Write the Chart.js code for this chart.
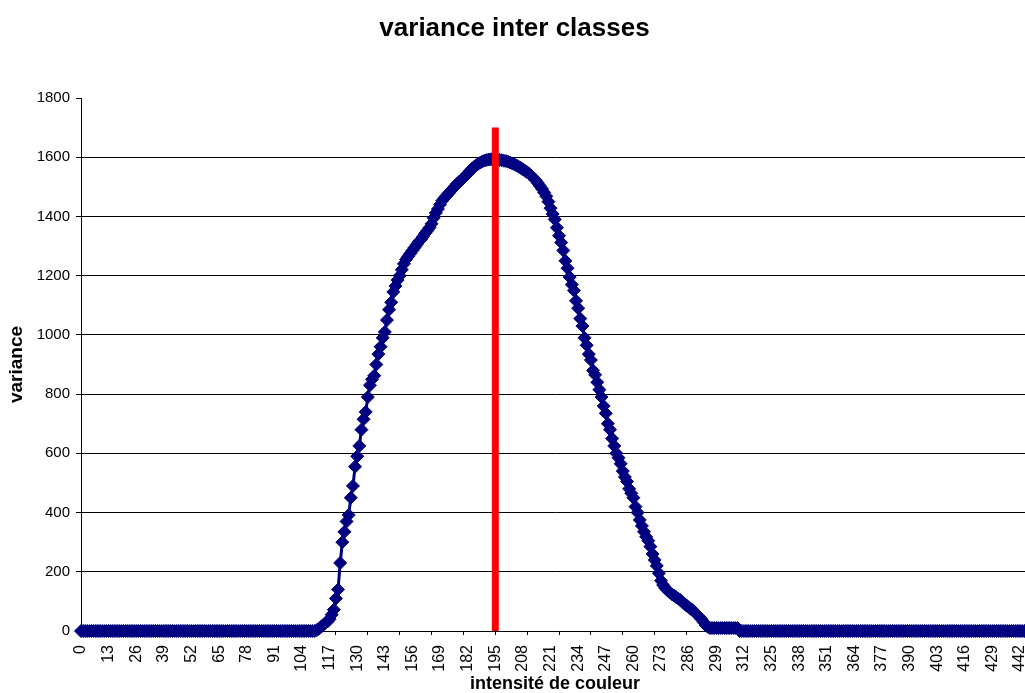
<!DOCTYPE html>
<html>
<head>
<meta charset="utf-8">
<title>variance inter classes</title>
<script src="https://cdn.jsdelivr.net/npm/chart.js@4.4.1/dist/chart.umd.min.js"></script>
<style>
  html, body { margin: 0; padding: 0; background: #fff; overflow: hidden; }
  #graphe { display: block; }
</style>
</head>
<body>
<canvas id="graphe" width="1029" height="693"></canvas>
<script>
// variance inter classes pour chaque seuil d'intensité (0 .. 446)
let variance = [
    0, 0, 0, 0, 0, 0, 0, 0, 0, 0, 0, 0, 0, 0, 0, 0, 0, 0, 0, 0,
    0, 0, 0, 0, 0, 0, 0, 0, 0, 0, 0, 0, 0, 0, 0, 0, 0, 0, 0, 0,
    0, 0, 0, 0, 0, 0, 0, 0, 0, 0, 0, 0, 0, 0, 0, 0, 0, 0, 0, 0,
    0, 0, 0, 0, 0, 0, 0, 0, 0, 0, 0, 0, 0, 0, 0, 0, 0, 0, 0, 0,
    0, 0, 0, 0, 0, 0, 0, 0, 0, 0, 0, 0, 0, 0, 0, 0, 0, 0, 0, 0,
    0, 0, 0, 0, 0, 0, 0, 0, 0, 0, 0,
    // 111
    3, 8, 14, 20, 27, 32, 40, 55, 72, 110,
    140, 230, 300, 335, 370, 392, 450, 490, 555, 590,
    625, 680, 715, 740, 790, 830, 850, 862, 900, 935,
    960, 990, 1010, 1050, 1085, 1110, 1145, 1165, 1185, 1200,
    1220, 1240, 1255, 1265, 1275, 1285, 1295, 1305, 1315, 1322,
    1332, 1343, 1352, 1362, 1375, 1395, 1412, 1425, 1440, 1453,
    1462, 1470, 1478, 1486, 1494, 1502, 1510, 1517, 1523, 1530,
    1537, 1545, 1553, 1561, 1567, 1573, 1578, 1582, 1586, 1589,
    1591, 1592, 1593, 1594, 1594, 1593, 1591, 1590, 1588, 1587,
    1585, 1582, 1579, 1576, 1572, 1568, 1564, 1559, 1554, 1549,
    1544, 1537, 1530, 1522, 1513, 1503, 1493, 1481, 1468, 1450,
    1428, 1408, 1390, 1362, 1335, 1312, 1285, 1250, 1225, 1195,
    1170, 1150, 1115, 1090, 1055, 1030, 990, 965, 935, 915,
    880, 865, 840, 815, 790, 760, 735, 700, 680, 650,
    625, 600, 585, 565, 540, 520, 505, 480, 465, 450,
    420, 400, 375, 355, 335, 318, 305, 285, 260, 240,
    220, 195, 170, 155, 145, 138, 131, 125, 120, 115,
    110, 105, 98, 92, 86, 80, 75, 70, 62, 55,
    48, 40, 30, 20, 14, 10, 10, 10, 10, 10,
    10, 10, 10, 10, 10, 10, 10, 10, 10,
    // 310
    0, 0, 0, 0, 0, 0, 0, 0, 0, 0, 0, 0, 0, 0, 0, 0, 0, 0, 0, 0,
    0, 0, 0, 0, 0, 0, 0, 0, 0, 0, 0, 0, 0, 0, 0, 0, 0, 0, 0, 0,
    0, 0, 0, 0, 0, 0, 0, 0, 0, 0, 0, 0, 0, 0, 0, 0, 0, 0, 0, 0,
    0, 0, 0, 0, 0, 0, 0, 0, 0, 0, 0, 0, 0, 0, 0, 0, 0, 0, 0, 0,
    0, 0, 0, 0, 0, 0, 0, 0, 0, 0, 0, 0, 0, 0, 0, 0, 0, 0, 0, 0,
    0, 0, 0, 0, 0, 0, 0, 0, 0, 0, 0, 0, 0, 0, 0, 0, 0, 0, 0, 0,
    0, 0, 0, 0, 0, 0, 0, 0, 0, 0, 0, 0, 0, 0, 0, 0, 0
]

// seuil retenu (trait rouge)
let seuil = 195
let seuil_haut = 1700

// graduations
let pas_etiquettes = 13
let pas_graduations = 15
let x_max = 446.2
let y_max = 1800
let pas_y = 200

let points = variance.map((v, i) => ({ x: i, y: v }))
let trait_seuil = [{ x: seuil, y: 0 }, { x: seuil, y: seuil_haut }]

Chart.defaults.font.family = "'Liberation Sans', Arial, sans-serif"
Chart.defaults.color = '#000'

// l'axe des x va jusqu'au bord droit du canvas
function sansMarge(scale, hauteur) {
    scale.height = hauteur
    scale.paddingLeft = 0
    scale.paddingRight = 0
}

const ctx = document.getElementById('graphe').getContext('2d')
const graphe = new Chart(ctx, {
    type: 'line',
    data: {
        datasets: [
            {
                label: 'seuil',
                data: trait_seuil,
                borderColor: '#ff0000',
                borderWidth: 7,
                pointRadius: 0,
                clip: false,
                order: 0
            },
            {
                label: 'variance',
                data: points,
                borderColor: '#000080',
                borderWidth: 3,
                backgroundColor: '#000080',
                pointStyle: 'rectRot',
                pointRadius: 6.5,
                pointBorderWidth: 1,
                pointBackgroundColor: '#000080',
                pointBorderColor: '#000080',
                clip: false,
                order: 1
            }
        ]
    },
    options: {
        responsive: false,
        animation: false,
        layout: { padding: 0, autoPadding: false },
        plugins: {
            legend: { display: false },
            tooltip: { enabled: false },
            title: {
                display: true,
                text: 'variance inter classes',
                color: '#000',
                font: { size: 26, weight: 'bold', lineHeight: 1.2 },
                padding: { top: 13, bottom: 53.8 }
            }
        },
        scales: {
            x: {
                type: 'linear',
                position: 'bottom',
                min: 0,
                max: x_max,
                ticks: {
                    display: false,
                    stepSize: pas_graduations,
                    includeBounds: false,
                    maxTicksLimit: 50,
                    minRotation: 90,
                    maxRotation: 90
                },
                grid: {
                    drawOnChartArea: false,
                    drawTicks: true,
                    tickLength: 4,
                    color: '#000',
                    tickColor: '#000'
                },
                border: { display: true, color: '#000', width: 1 },
                afterFit: (scale) => sansMarge(scale, 4)
            },
            xLab: {
                type: 'linear',
                position: 'bottom',
                min: 0,
                max: x_max,
                ticks: {
                    stepSize: pas_etiquettes,
                    includeBounds: false,
                    maxTicksLimit: 50,
                    autoSkip: false,
                    minRotation: 90,
                    maxRotation: 90,
                    padding: 10,
                    font: { size: 16 }
                },
                grid: { display: false, drawTicks: false },
                border: { display: false },
                title: {
                    display: true,
                    text: 'intensité de couleur',
                    font: { size: 18, weight: 'bold', lineHeight: 1 },
                    padding: { top: 0, bottom: 0 }
                },
                afterFit: (scale) => sansMarge(scale, 58)
            },
            y: {
                min: 0,
                max: y_max,
                ticks: {
                    stepSize: pas_y,
                    padding: 6,
                    font: { size: 15 },
                    callback: (v) => String(v)
                },
                grid: {
                    color: (c) => c.tick && c.tick.value === y_max ? 'rgba(0,0,0,0)' : '#000',
                    tickColor: '#000',
                    tickLength: 5,
                    lineWidth: 1
                },
                border: { display: true, color: '#000', width: 1 },
                title: {
                    display: true,
                    text: 'variance',
                    font: { size: 19, weight: 'bold', lineHeight: 1 },
                    padding: { top: 7, bottom: 0 }
                },
                afterFit: function (scale) { scale.width = 81 }
            }
        }
    }
})
</script>
</body>
</html>
